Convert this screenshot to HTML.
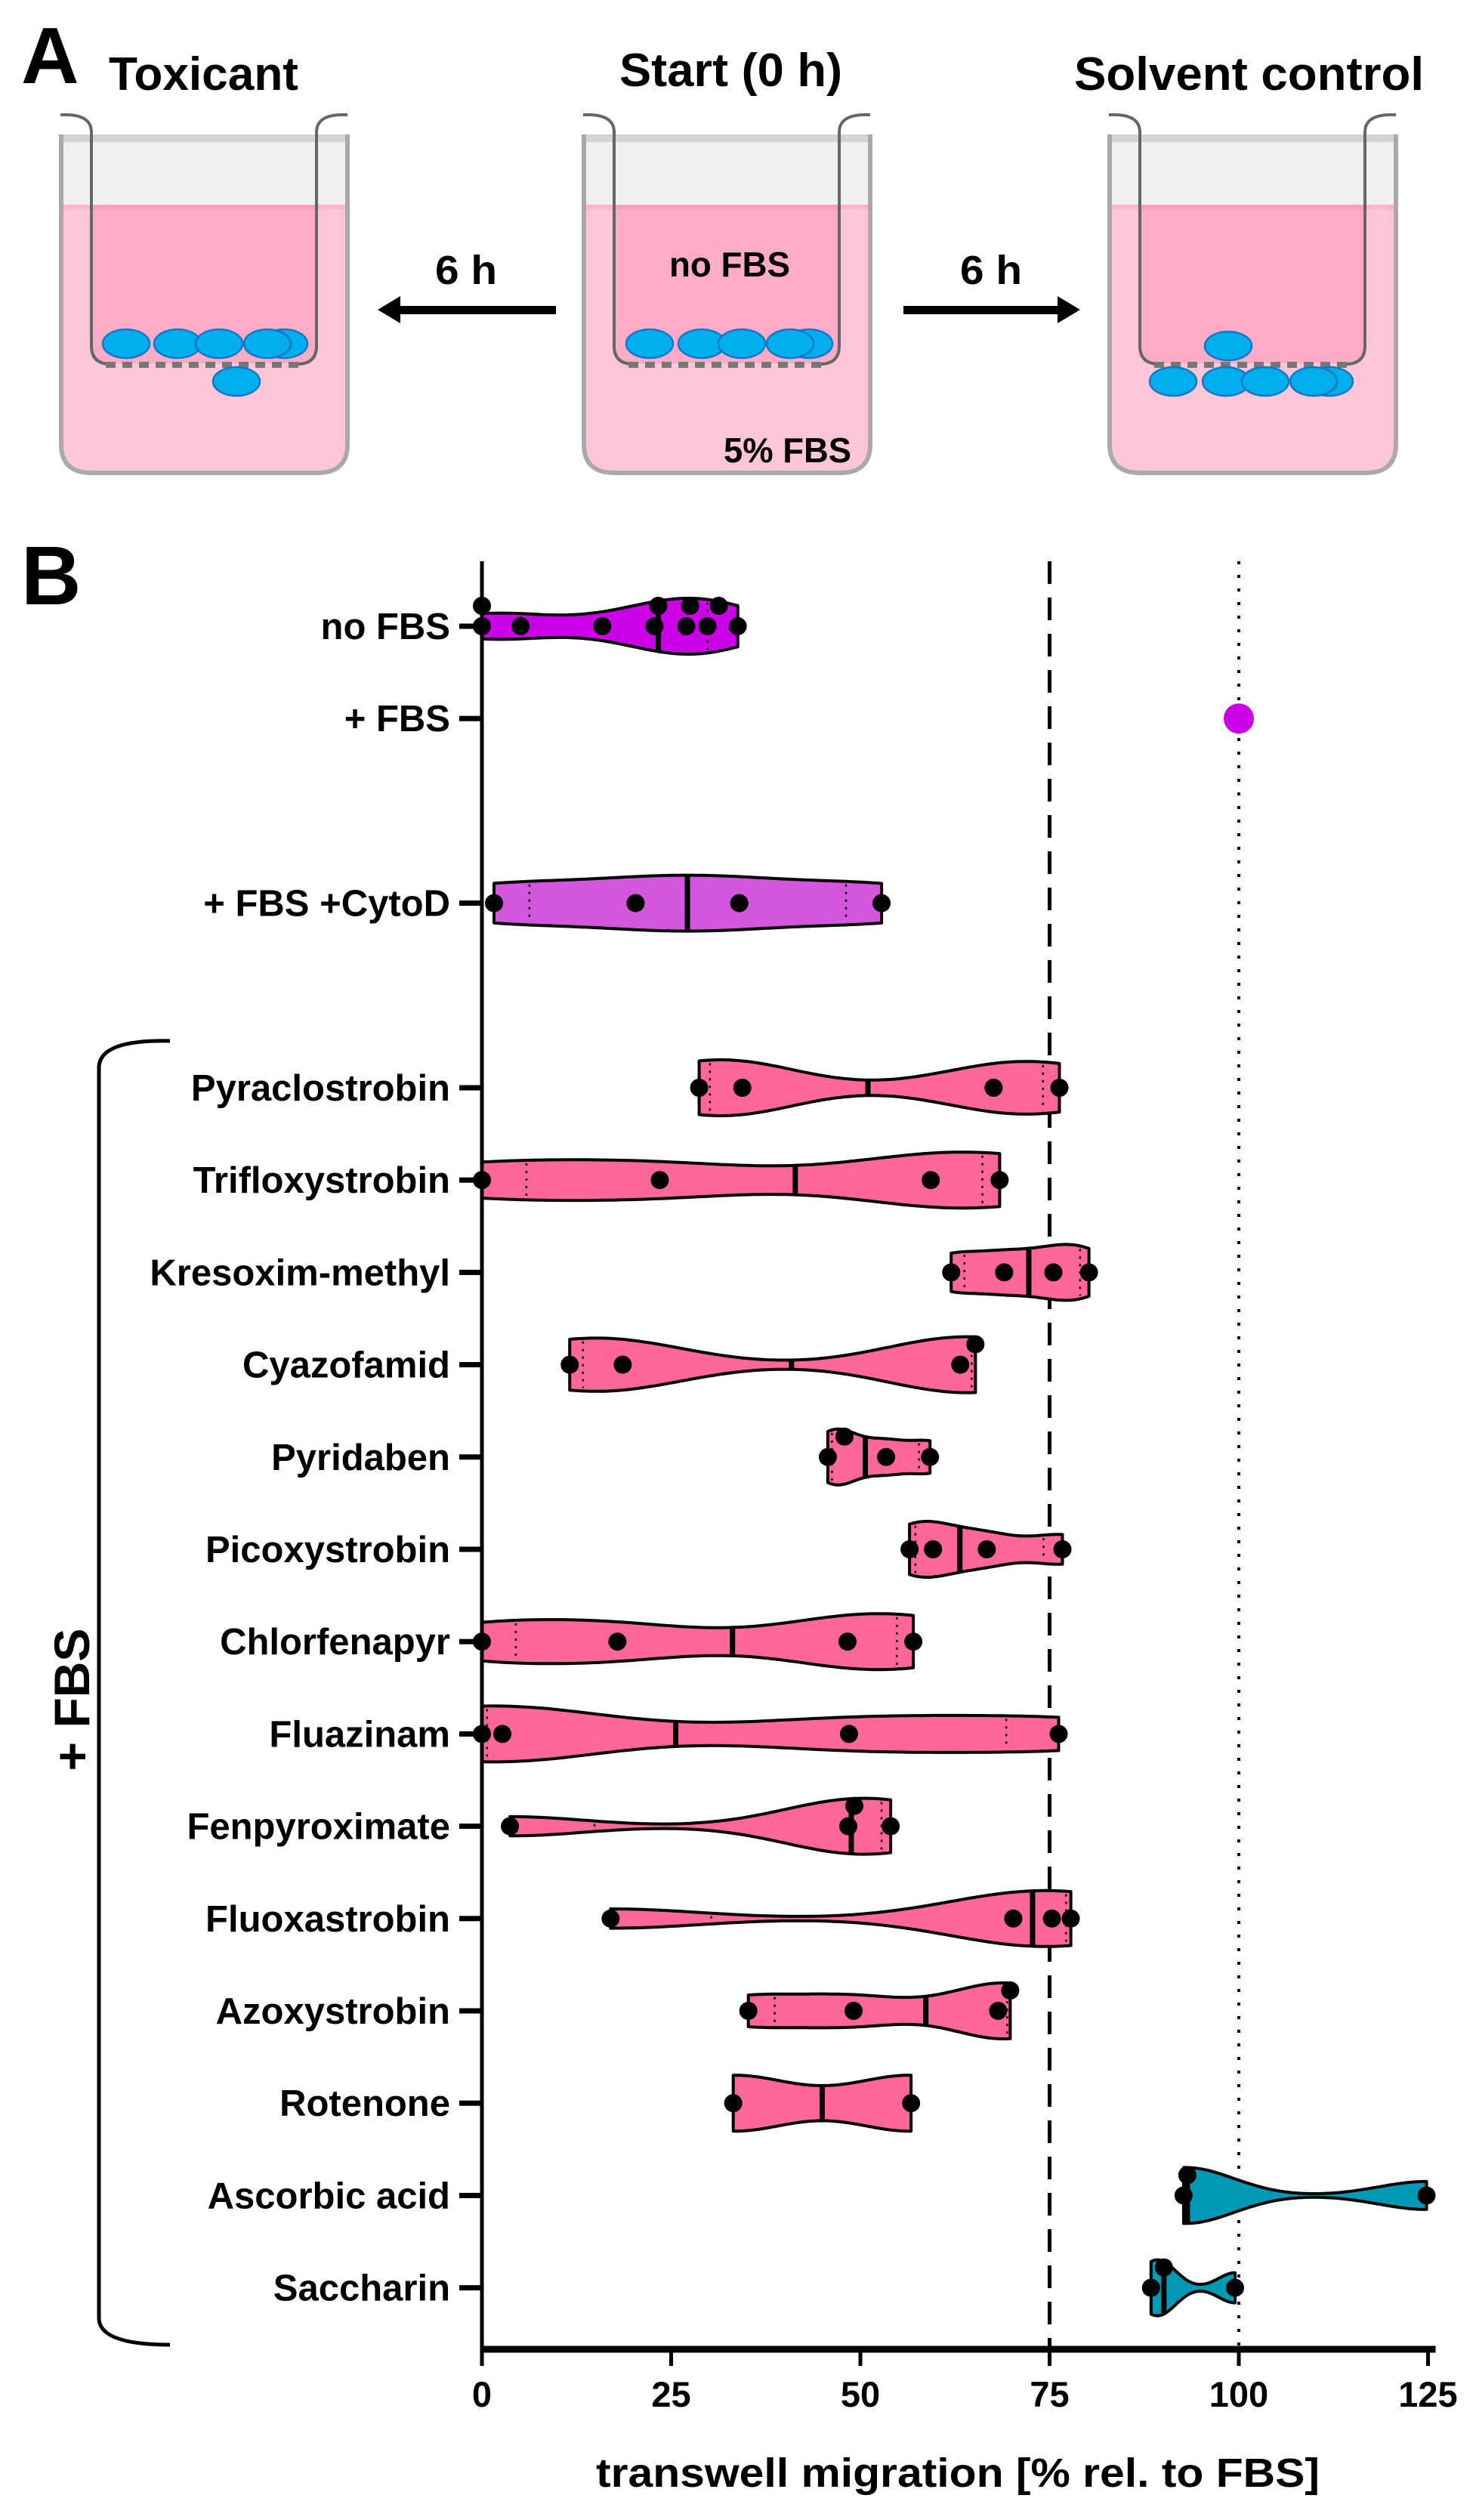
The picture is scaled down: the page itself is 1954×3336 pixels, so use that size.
<!DOCTYPE html>
<html><head><meta charset="utf-8"><style>
html,body{margin:0;padding:0;background:#fff;}
svg{display:block;font-family:"Liberation Sans",Arial,sans-serif;font-weight:bold;}
</style></head><body>
<svg id="fig" width="1954" height="3336" viewBox="0 0 1954 3336" xmlns="http://www.w3.org/2000/svg">
<g id="panelA">
  <text x="28" y="110" font-size="106">A</text>
  <text x="144" y="119" font-size="62" textLength="251" lengthAdjust="spacingAndGlyphs">Toxicant</text>
  <text x="820" y="114" font-size="62" textLength="295" lengthAdjust="spacingAndGlyphs">Start (0 h)</text>
  <text x="1422" y="119" font-size="62" textLength="463" lengthAdjust="spacingAndGlyphs">Solvent control</text>
  <g id="beakers"></g>
  <g>
    <rect x="522" y="405" width="214" height="11" fill="#000"/>
    <polygon points="500,410 530,392 530,428" fill="#000"/>
  </g>
  <text x="576" y="376" font-size="54" textLength="82" lengthAdjust="spacingAndGlyphs">6 h</text>
  <g>
    <rect x="1196" y="405" width="212" height="11" fill="#000"/>
    <polygon points="1430,410 1400,392 1400,428" fill="#000"/>
  </g>
  <text x="1271" y="376" font-size="54" textLength="82" lengthAdjust="spacingAndGlyphs">6 h</text>
  <text x="886" y="366" font-size="46" textLength="160" lengthAdjust="spacingAndGlyphs">no FBS</text>
  <text x="958" y="612" font-size="46" textLength="169" lengthAdjust="spacingAndGlyphs">5% FBS</text>
</g>
<g id="panelB">
  <text x="28" y="800" font-size="110">B</text>
  <path d="M225,1378 Q133,1376 131,1412 L131,3070 Q133,3104 225,3104" fill="none" stroke="#000" stroke-width="5"/>
  <text transform="translate(118,2250) rotate(-90)" text-anchor="middle" font-size="66">+ FBS</text>
  <g id="chart"></g>
</g>
</svg>
<script>
// ---------- chart data ----------
const categories = ["no FBS","+ FBS","+ FBS +CytoD","Pyraclostrobin","Trifloxystrobin","Kresoxim-methyl","Cyazofamid","Pyridaben","Picoxystrobin","Chlorfenapyr","Fluazinam","Fenpyroximate","Fluoxastrobin","Azoxystrobin","Rotenone","Ascorbic acid","Saccharin"];
const categorySlots = [0,1,3,5,6,7,8,9,10,11,12,13,14,15,16,17,18];
const noFbsValues = [0,0,5.1,15.9,22.8,23.3,27,27.5,29.8,31.3,33.8];
const fbsValues = [100];
const cytoDValues = [1.6,20.3,34,52.8];
const pyraclostrobinValues = [28.7,34.4,67.6,76.3];
const trifloxystrobinValues = [0,23.5,59.3,68.4];
const kresoximValues = [62,69,75.5,80.2];
const cyazofamidValues = [11.6,18.6,63.2,65.2];
const pyridabenValues = [45.7,47.9,53.4,59.2];
const picoxystrobinValues = [56.5,59.6,66.7,76.7];
const chlorfenapyrValues = [0,17.9,48.3,57.0];
const fluazinamValues = [0,2.7,48.5,76.2];
const fenpyroximateValues = [3.7,48.4,49.2,54];
const fluoxastrobinValues = [17,70.2,75.3,77.8];
const azoxystrobinValues = [35.2,49.1,68.2,69.8];
const rotenoneValues = [33.2,56.7];
const ascorbicValues = [92.7,93.2,124.8];
const saccharinValues = [88.4,90.1,99.5];
const seriesValues = [noFbsValues,fbsValues,cytoDValues,pyraclostrobinValues,trifloxystrobinValues,kresoximValues,cyazofamidValues,pyridabenValues,picoxystrobinValues,chlorfenapyrValues,fluazinamValues,fenpyroximateValues,fluoxastrobinValues,azoxystrobinValues,rotenoneValues,ascorbicValues,saccharinValues];
const seriesColors = ["#cc00e6","#cc00e6","#d257dc","#ff6699","#ff6699","#ff6699","#ff6699","#ff6699","#ff6699","#ff6699","#ff6699","#ff6699","#ff6699","#ff6699","#ff6699","#0099b5","#0099b5"];
const xTicks = [0,25,50,75,100,125];
const xTickLabels = ["0","25","50","75","100","125"];
const refLineDashed = 75;
const refLineDotted = 100;

// ---------- axes ----------
const X0 = 638, XS = 10.02;
const xScale = v => X0 + v * XS;
const Y0 = 829, YS = 122.2;
const yScale = slot => Y0 + slot * YS;
const AXIS_Y = 3110, AXIS_TOP = 743;
const NS = "http://www.w3.org/2000/svg";
const chart = document.getElementById('chart');
function mk(tag, attrs, parent) {
  const e = document.createElementNS(NS, tag);
  for (const k in attrs) e.setAttribute(k, attrs[k]);
  (parent || chart).appendChild(e);
  return e;
}

let e;
e = mk('line', {x1: xScale(refLineDashed), x2: xScale(refLineDashed), y1: AXIS_TOP, y2: AXIS_Y, stroke: '#000', 'stroke-width': 5, 'stroke-dasharray': '30 18'});


e = mk('line', {x1: xScale(refLineDotted), x2: xScale(refLineDotted), y1: AXIS_TOP, y2: AXIS_Y, stroke: '#000', 'stroke-width': 4, 'stroke-dasharray': '4 14'});



function quantile(sorted, q) {
  const n = sorted.length;
  let p = (n + 1) * q;
  if (p < 1) p = 1; if (p > n) p = n;
  const lo = Math.floor(p), hi = Math.ceil(p);
  return sorted[lo - 1] + (p - lo) * (sorted[hi - 1] - sorted[lo - 1]);
}

categories.forEach((name, i) => {
  const vals = seriesValues[i].slice().sort((a, b) => a - b);
  const cy = yScale(categorySlots[i]);
  const g = mk('g', {});
  
  
  e = mk('rect', {x: 608, y: cy - 3.5, width: 30, height: 7, fill: '#000'}, g);
  
  
  e = mk('text', {x: 596, y: cy + 17, 'font-size': 49, 'text-anchor': 'end'}, g);
  e.textContent = name;
  
  
  if (vals.length === 1) {
    e = mk('circle', {cx: xScale(vals[0]), cy: cy, r: 20, fill: seriesColors[i]}, g);
    
    
    return;
  }
  const mn = vals[0], mx = vals[vals.length - 1];
  const k = vals.length === 2 ? 0.33 : 0.2;
  const h = Math.max(k * (mx - mn), 0.5);
  const dens = v => vals.reduce((s, d) => s + Math.exp(-0.5 * ((v - d) / h) ** 2), 0);
  const N = 80, samples = [];
  let dmax = 0;
  for (let j = 0; j <= N; j++) { const v = mn + (mx - mn) * j / N; const d = dens(v); samples.push([v, d]); if (d > dmax) dmax = d; }
  const HW = 37;
  const hw = v => HW * dens(v) / dmax;
  let dp = '';
  samples.forEach(([v, d], j) => { dp += (j ? 'L' : 'M') + xScale(v).toFixed(1) + ',' + (cy - HW * d / dmax).toFixed(1); });
  for (let j = samples.length - 1; j >= 0; j--) { const [v, d] = samples[j]; dp += 'L' + xScale(v).toFixed(1) + ',' + (cy + HW * d / dmax).toFixed(1); }
  dp += 'Z';
  e = mk('path', {d: dp, fill: seriesColors[i], stroke: '#000', 'stroke-width': 4, 'stroke-linejoin': 'round'}, g);
  
  
  if (vals.length > 2) {
    [0.25, 0.75].forEach(q => {
      const qv = quantile(vals, q), w = hw(qv);
      e = mk('line', {x1: xScale(qv), x2: xScale(qv), y1: cy - w + 4, y2: cy + w - 4, stroke: '#000', 'stroke-width': 2.5, 'stroke-dasharray': '3 7'}, g);
      
      
    });
  }
  const med = quantile(vals, 0.5), mw = hw(med);
  e = mk('line', {x1: xScale(med), x2: xScale(med), y1: cy - mw, y2: cy + mw, stroke: '#000', 'stroke-width': 7}, g);
  
  
  const placed = [], R = 12, D = 27;
  vals.forEach(v => {
    const px = xScale(v);
    const offs = [0, -D, D, -2 * D, 2 * D];
    let oy = 0;
    for (const o of offs) {
      if (placed.every(p => Math.hypot(p[0] - px, p[1] - o) >= 2 * R - 1)) { oy = o; break; }
    }
    placed.push([px, oy]);
    e = mk('circle', {cx: px, cy: cy + oy, r: R, fill: '#000'}, g);
    
    
  });
});

e = mk('line', {x1: X0, x2: X0, y1: AXIS_TOP, y2: AXIS_Y, stroke: '#000', 'stroke-width': 5});


e = mk('line', {x1: X0 - 2, x2: xScale(126), y1: AXIS_Y, y2: AXIS_Y, stroke: '#000', 'stroke-width': 9});


xTicks.forEach((t, k) => {
  e = mk('line', {x1: xScale(t), x2: xScale(t), y1: AXIS_Y, y2: AXIS_Y + 22, stroke: '#000', 'stroke-width': 5});
  
  
  e = mk('text', {x: xScale(t), y: 3186, 'font-size': 47, 'text-anchor': 'middle'});
  e.textContent = xTickLabels[k];
  
  
});
e = mk('text', {x: 789, y: 3292, 'font-size': 54, textLength: 958, lengthAdjust: 'spacingAndGlyphs'});
e.textContent = 'transwell migration [% rel. to FBS]';



// ---------- panel A beakers ----------
const beakerHost = document.getElementById('beakers');
const beakerOffsets = [0, 692, 1388];
const beakerNames = ['toxicant-well', 'start-well', 'solvent-control-well'];
const cellSets = [
  [[167,455],[235,455],[290,455],[376,455],[354,455],[313,505]],
  [[860,455],[929,455],[982,455],[1071,455],[1046,455]],
  [[1626,458],[1553,505],[1623,505],[1675,505],[1760,505],[1739,505]]
];
beakerOffsets.forEach((ox, b) => {
  const g = mk('g', {transform: 'translate(' + ox + ',0)'}, beakerHost);
  
  
  const outer = 'M81,178 L81,588 Q81,626 121,626 L420,626 Q460,626 460,588 L460,178';
  mk('path', {d: outer + ' Z', fill: '#fec6d8'}, g);
  mk('rect', {x: 81, y: 178, width: 379, height: 93, fill: '#eff0ef'}, g);
  mk('rect', {x: 81, y: 178, width: 379, height: 10, fill: '#d3d3d3'}, g);
  mk('rect', {x: 81, y: 271, width: 379, height: 6, fill: '#fdb3cb'}, g);
  mk('path', {d: 'M121,271 L419,271 L419,462 Q419,480 400,481 L140,481 Q121,480 121,462 Z', fill: '#fdacc7'}, g);
  mk('rect', {x: 121, y: 271, width: 298, height: 6, fill: '#fc9dbd'}, g);
  mk('path', {d: outer, fill: 'none', stroke: '#a9a9a9', 'stroke-width': 6}, g);
  mk('path', {d: 'M80,152 Q121,150 121,175 L121,458 Q121,481 145,482', fill: 'none', stroke: '#666', 'stroke-width': 4}, g);
  mk('path', {d: 'M460,152 Q419,150 419,175 L419,458 Q419,481 395,482', fill: 'none', stroke: '#666', 'stroke-width': 4}, g);
  mk('line', {x1: 140, x2: 400, y1: 483, y2: 483, stroke: '#777', 'stroke-width': 8, 'stroke-dasharray': '13 9'}, g);
  cellSets[b].forEach(([cx, cy]) => {
    const c = mk('ellipse', {cx: cx - ox, cy: cy, rx: 31, ry: 19, fill: '#00aeef', stroke: '#1478c0', 'stroke-width': 2.5}, g);
    
    
  });
});
</script>
</body></html>
